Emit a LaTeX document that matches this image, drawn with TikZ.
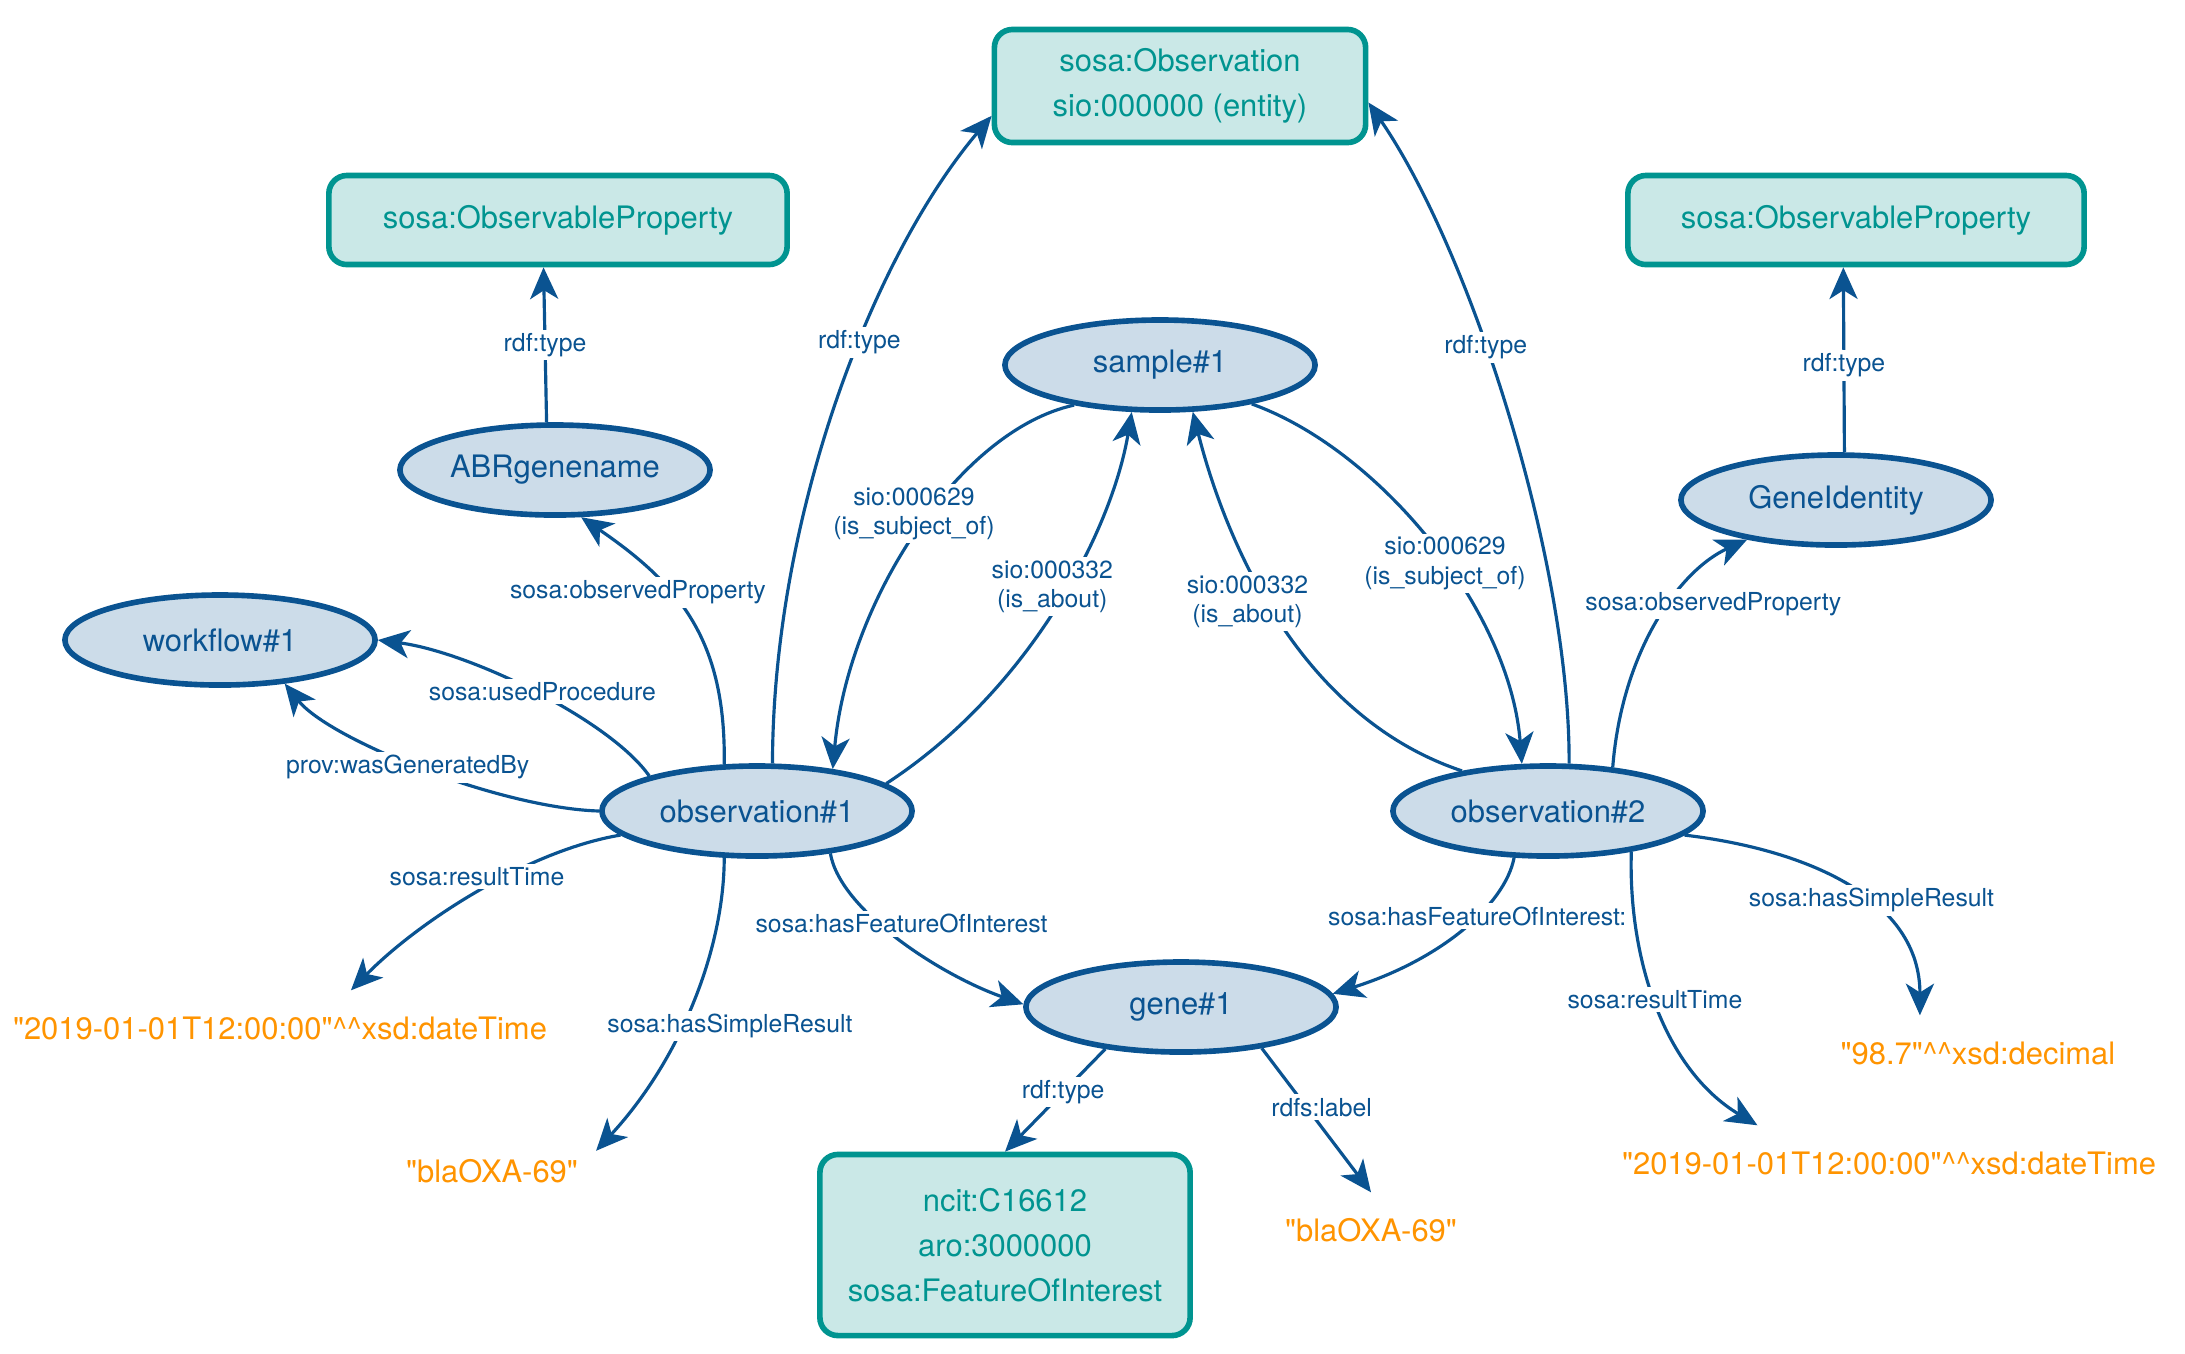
\documentclass[tikz,border=0pt]{standalone}
\usepackage{fontspec}
\setmainfont{TeX Gyre Heros}
\usetikzlibrary{arrows.meta, shapes.geometric}
\definecolor{RdfBlue}{HTML}{0A5391}
\definecolor{RdfBlueFill}{HTML}{CCDCE9}
\definecolor{ClassTeal}{HTML}{009490}
\definecolor{ClassTealFill}{HTML}{CAE8E7}
\definecolor{LitOrange}{HTML}{FF9400}
\tikzset{
  instnode/.style={ellipse, draw=RdfBlue, line width=1.6pt, fill=RdfBlueFill,
                   text=RdfBlue, font=\fontsize{8.8}{10.5}\selectfont,
                   minimum width=3.1cm, minimum height=0.9cm, inner sep=0pt},
  classbox/.style={draw=ClassTeal, line width=1.6pt, fill=ClassTealFill,
                   text=ClassTeal, rounded corners=0.18cm, align=center,
                   font=\fontsize{8.8}{12.8}\selectfont, inner sep=0pt},
  litnode/.style={text=LitOrange, font=\fontsize{8.8}{10.5}\selectfont,
                  minimum height=0.74cm, inner xsep=0.175cm, inner ysep=0pt},
  relarrow/.style={draw=RdfBlue, line width=0.9pt,
                   -{Stealth[length=9pt, width=8pt, inset=2.5pt]}},
  rellabel/.style={fill=white, text=RdfBlue, align=center, inner sep=1pt,
                   font=\fontsize{7.05}{8.3}\selectfont},
}
\newcommand{\qq}{\textquotedbl}
\newcommand{\hats}{\textasciicircum\textasciicircum}
\begin{document}
\begin{tikzpicture}[x=0.01cm, y=-0.01cm]
  \path[use as bounding box, fill=white] (0,0) rectangle (2185,1353);

  % classes
  \node[classbox, minimum width=3.71cm, minimum height=1.13cm] (obsclass) at (1180,86)
    {sosa:Observation\\sio:000000 (entity)};
  \node[classbox, minimum width=4.58cm, minimum height=0.89cm] (propl) at (558,220)
    {sosa:ObservableProperty};
  \node[classbox, minimum width=4.56cm, minimum height=0.89cm] (propr) at (1856,220)
    {sosa:ObservableProperty};
  \node[classbox, minimum width=3.7cm, minimum height=1.81cm] (ncit) at (1005,1245)
    {ncit:C16612\\aro:3000000\\sosa:FeatureOfInterest};

  % instances
  \node[instnode] (sample) at (1160,365) {sample\#1};
  \node[instnode] (abr) at (555,470) {ABRgenename};
  \node[instnode] (geneid) at (1836,500) {GeneIdentity};
  \node[instnode] (workflow) at (220,640) {workflow\#1};
  \node[instnode] (obs1) at (757,811) {observation\#1};
  \node[instnode] (obs2) at (1548,811) {observation\#2};
  \node[instnode] (gene) at (1181,1007) {gene\#1};

  % literals
  \node[litnode] (timel) at (280,1028)
    {\qq2019-01-01T12:00:00\qq\hats xsd:dateTime};
  \node[litnode] (oxal) at (492,1171) {\qq blaOXA-69\qq};
  \node[litnode] (oxab) at (1371,1230) {\qq blaOXA-69\qq};
  \node[litnode] (decimal) at (1978,1053) {\qq98.7\qq\hats xsd:decimal};
  \node[litnode] (timer) at (1889,1163)
    {\qq2019-01-01T12:00:00\qq\hats xsd:dateTime};

  % rdf:type
  \draw[relarrow] (abr.100) -- (propl.253) node[rellabel, pos=.5] {rdf:type};
  \draw[relarrow] (geneid.80) -- (propr.255) node[rellabel, pos=.47] {rdf:type};
  \draw[relarrow] (obs1.72) .. controls (773,520) and (870,260) .. (obsclass.189)
    node[rellabel, pos=.59] {rdf:type};
  \draw[relarrow] (obs2.66) .. controls (1570,560) and (1470,250) .. (obsclass.355)
    node[rellabel, pos=.59] {rdf:type};
  \draw[relarrow] (gene.209) -- (ncit.north) node[rellabel, pos=.42] {rdf:type};

  % sample#1
  \draw[relarrow] (sample.205) .. controls (960,430) and (848,600) .. (obs1.29)
    node[rellabel, pos=.45, xshift=-0.16cm] {sio:000629\\(is\_subject\_of)};
  \draw[relarrow] (obs1.12) .. controls (1030,690) and (1112,530) .. (sample.239)
    node[rellabel, pos=.55, xshift=-0.15cm] {sio:000332\\(is\_about)};
  \draw[relarrow] (obs2.155) .. controls (1280,710) and (1215,500) .. (sample.305)
    node[rellabel, pos=.5, xshift=-0.2cm] {sio:000332\\(is\_about)};
  \draw[relarrow] (sample.337) .. controls (1380,450) and (1510,610) .. (obs2.119)
    node[rellabel, pos=.55] {sio:000629\\(is\_subject\_of)};

  % observation#1
  \draw[relarrow] (obs1.125) .. controls (726,640) and (680,585) .. (abr.299)
    node[rellabel, pos=.55, xshift=-0.45cm, yshift=0.16cm] {sosa:observedProperty};
  \draw[relarrow] (obs1.162) .. controls (610,720) and (470,652) .. (workflow.0)
    node[rellabel, pos=.5, xshift=0.09cm] {sosa:usedProcedure};
  \draw[relarrow] (obs1.180) .. controls (500,808) and (330,740) .. (workflow.326)
    node[rellabel, pos=.5, xshift=-0.14cm] {prov:wasGeneratedBy};
  \draw[relarrow] (obs1.190) .. controls (530,850) and (420,920) .. (timel.28)
    node[rellabel, pos=.45, xshift=-0.15cm, yshift=0.07cm] {sosa:resultTime};
  \draw[relarrow] (obs1.235) .. controls (724,950) and (680,1060) .. (oxal.11)
    node[rellabel, pos=.57, xshift=0.48cm] {sosa:hasSimpleResult};
  \draw[relarrow] (obs1.330) .. controls (840,910) and (940,975) .. (gene.179)
    node[rellabel, pos=.45, xshift=0.13cm, yshift=0.07cm] {sosa:hasFeatureOfInterest};

  % observation#2
  \draw[relarrow] (obs2.34) .. controls (1622,650) and (1680,570) .. (geneid.204)
    node[rellabel, pos=.5, xshift=0.55cm, yshift=0.17cm] {sosa:observedProperty};
  \draw[relarrow] (obs2.234) .. controls (1505,905) and (1440,960) .. (gene.5)
    node[rellabel, pos=.4] {sosa:hasFeatureOfInterest:};
  \draw[relarrow] (obs2.334) .. controls (1628,960) and (1665,1070) .. (timer.164)
    node[rellabel, pos=.47] {sosa:resultTime};
  \draw[relarrow] (obs2.350) .. controls (1810,850) and (1920,900) .. (decimal.147)
    node[rellabel, pos=.57, xshift=0.05cm] {sosa:hasSimpleResult};

  % gene#1
  \draw[relarrow] (gene.333) -- (oxab.north)
    node[rellabel, pos=.41, xshift=0.15cm] {rdfs:label};
\end{tikzpicture}
\end{document}
